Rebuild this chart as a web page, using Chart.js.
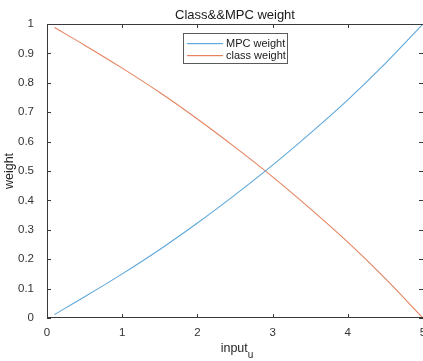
<!DOCTYPE html>
<html>
<head>
<meta charset="utf-8">
<script src="https://cdn.jsdelivr.net/npm/chart.js@4/dist/chart.umd.min.js"></script>
<style>
  html, body { margin: 0; padding: 0; background: #fff; }
  #wrap { width: 423px; height: 361px; }
</style>
</head>
<body>
<div id="wrap"><canvas id="weightChart" width="423" height="361"></canvas></div>
<script>
const inputU = [0.1, 0.5, 1, 1.5, 2, 2.5, 3, 3.5, 4, 4.5, 5];
const mpcWeight = [0.012, 0.072, 0.150, 0.233, 0.323, 0.419, 0.520, 0.628, 0.742, 0.866, 1.0];
const classWeight = [0.988, 0.928, 0.850, 0.767, 0.677, 0.581, 0.480, 0.372, 0.258, 0.134, 0.0];
const seriesNames = ['MPC weight', 'class weight'];
const seriesColors = ['#5EA8DC', '#E5835F'];
const titleText = 'Class&&MPC weight';
const xLabel = 'input';
const xLabelSub = 'u';
const yLabel = 'weight';

const FONT = "'Liberation Sans', Arial, sans-serif";
const AXIS_COLOR = '#3a3a3a';

const toPoints = (ys) => ys.map((y, i) => ({ x: inputU[i], y: y }));

// box, inward ticks, title, axis labels and legend in MATLAB style
const matlabLook = {
    id: 'matlabLook',
    afterDraw(chart) {
        const ctx = chart.ctx;
        const a = chart.chartArea;
        const xs = chart.scales.x, ys = chart.scales.y;
        ctx.save();
        ctx.strokeStyle = AXIS_COLOR;
        ctx.lineWidth = 1;
        // the right edge of the box falls just off the picture
        ctx.beginPath();
        ctx.moveTo(a.right, a.top + 0.5);
        ctx.lineTo(a.left + 0.5, a.top + 0.5);
        ctx.lineTo(a.left + 0.5, a.bottom - 0.5);
        ctx.lineTo(a.right, a.bottom - 0.5);
        ctx.stroke();

        const t = 4;
        ctx.beginPath();
        xs.ticks.forEach(tk => {
            const px = Math.round(xs.getPixelForValue(tk.value)) + 0.5;
            ctx.moveTo(px, a.bottom); ctx.lineTo(px, a.bottom - t);
            ctx.moveTo(px, a.top); ctx.lineTo(px, a.top + t);
        });
        ys.ticks.forEach(tk => {
            const py = Math.round(ys.getPixelForValue(tk.value)) + 0.5;
            ctx.moveTo(a.left, py); ctx.lineTo(a.left + t, py);
            ctx.moveTo(a.right, py); ctx.lineTo(a.right - t, py);
        });
        ctx.stroke();

        // title
        ctx.fillStyle = '#1a1a1a';
        ctx.font = '13px ' + FONT;
        ctx.textAlign = 'center';
        ctx.textBaseline = 'alphabetic';
        ctx.fillText(titleText, (a.left + a.right) / 2, 18.5);

        // x label with subscript
        ctx.textBaseline = 'middle';
        ctx.fillStyle = '#262626';
        ctx.font = '12.5px ' + FONT;
        const mainW = ctx.measureText(xLabel).width;
        ctx.font = '10px ' + FONT;
        const subW = ctx.measureText(xLabelSub).width;
        const startX = (a.left + a.right) / 2 - (mainW + subW) / 2 + 2;
        ctx.textAlign = 'left';
        ctx.font = '12.5px ' + FONT;
        ctx.fillText(xLabel, startX, 349);
        ctx.font = '10px ' + FONT;
        ctx.fillText(xLabelSub, startX + mainW, 355);

        // y label
        ctx.save();
        ctx.translate(10, (a.top + a.bottom) / 2);
        ctx.rotate(-Math.PI / 2);
        ctx.textAlign = 'center';
        ctx.font = '12.5px ' + FONT;
        ctx.fillText(yLabel, 0, 0);
        ctx.restore();

        // legend
        const lx = 183, ly = 33, lw = 104, lh = 30;
        ctx.fillStyle = '#fff';
        ctx.fillRect(lx, ly, lw, lh);
        ctx.strokeStyle = '#5a5a5a';
        ctx.lineWidth = 1;
        ctx.strokeRect(lx + 0.5, ly + 0.5, lw, lh);
        seriesNames.forEach((name, i) => {
            const rowY = ly + 10 + i * 12;
            ctx.fillStyle = seriesColors[i];
            ctx.fillRect(187, rowY, 36, 1.2);
            ctx.fillStyle = '#1a1a1a';
            ctx.font = '11px ' + FONT;
            ctx.textAlign = 'left';
            ctx.textBaseline = 'middle';
            ctx.fillText(name, 226, rowY + 1);
        });
        ctx.restore();
    }
};

new Chart(document.getElementById('weightChart'), {
    type: 'line',
    data: {
        datasets: [
            { label: seriesNames[0], data: toPoints(mpcWeight), borderColor: seriesColors[0] },
            { label: seriesNames[1], data: toPoints(classWeight), borderColor: seriesColors[1] }
        ]
    },
    options: {
        responsive: false,
        animation: false,
        layout: { padding: { top: 24, right: 0, left: 0, bottom: 0 } },
        elements: {
            line: { borderWidth: 1.1, cubicInterpolationMode: 'monotone', fill: false },
            point: { radius: 0 }
        },
        plugins: {
            legend: { display: false },
            title: { display: false },
            tooltip: { enabled: false }
        },
        scales: {
            x: {
                type: 'linear',
                min: 0, max: 5,
                ticks: { stepSize: 1, color: '#333', font: { family: FONT, size: 11.5 }, padding: 0, maxRotation: 0 },
                grid: { display: false },
                border: { display: false },
                afterFit: s => { s.height = 43; s.paddingRight = 0; }
            },
            y: {
                min: 0, max: 1,
                ticks: {
                    stepSize: 0.1, color: '#333', font: { family: FONT, size: 11.5 }, padding: 5,
                    callback: v => String(Number(v.toFixed(1)))
                },
                grid: { display: false },
                border: { display: false },
                afterFit: s => { s.width = 47; }
            }
        }
    },
    plugins: [matlabLook]
});
</script>
</body>
</html>
